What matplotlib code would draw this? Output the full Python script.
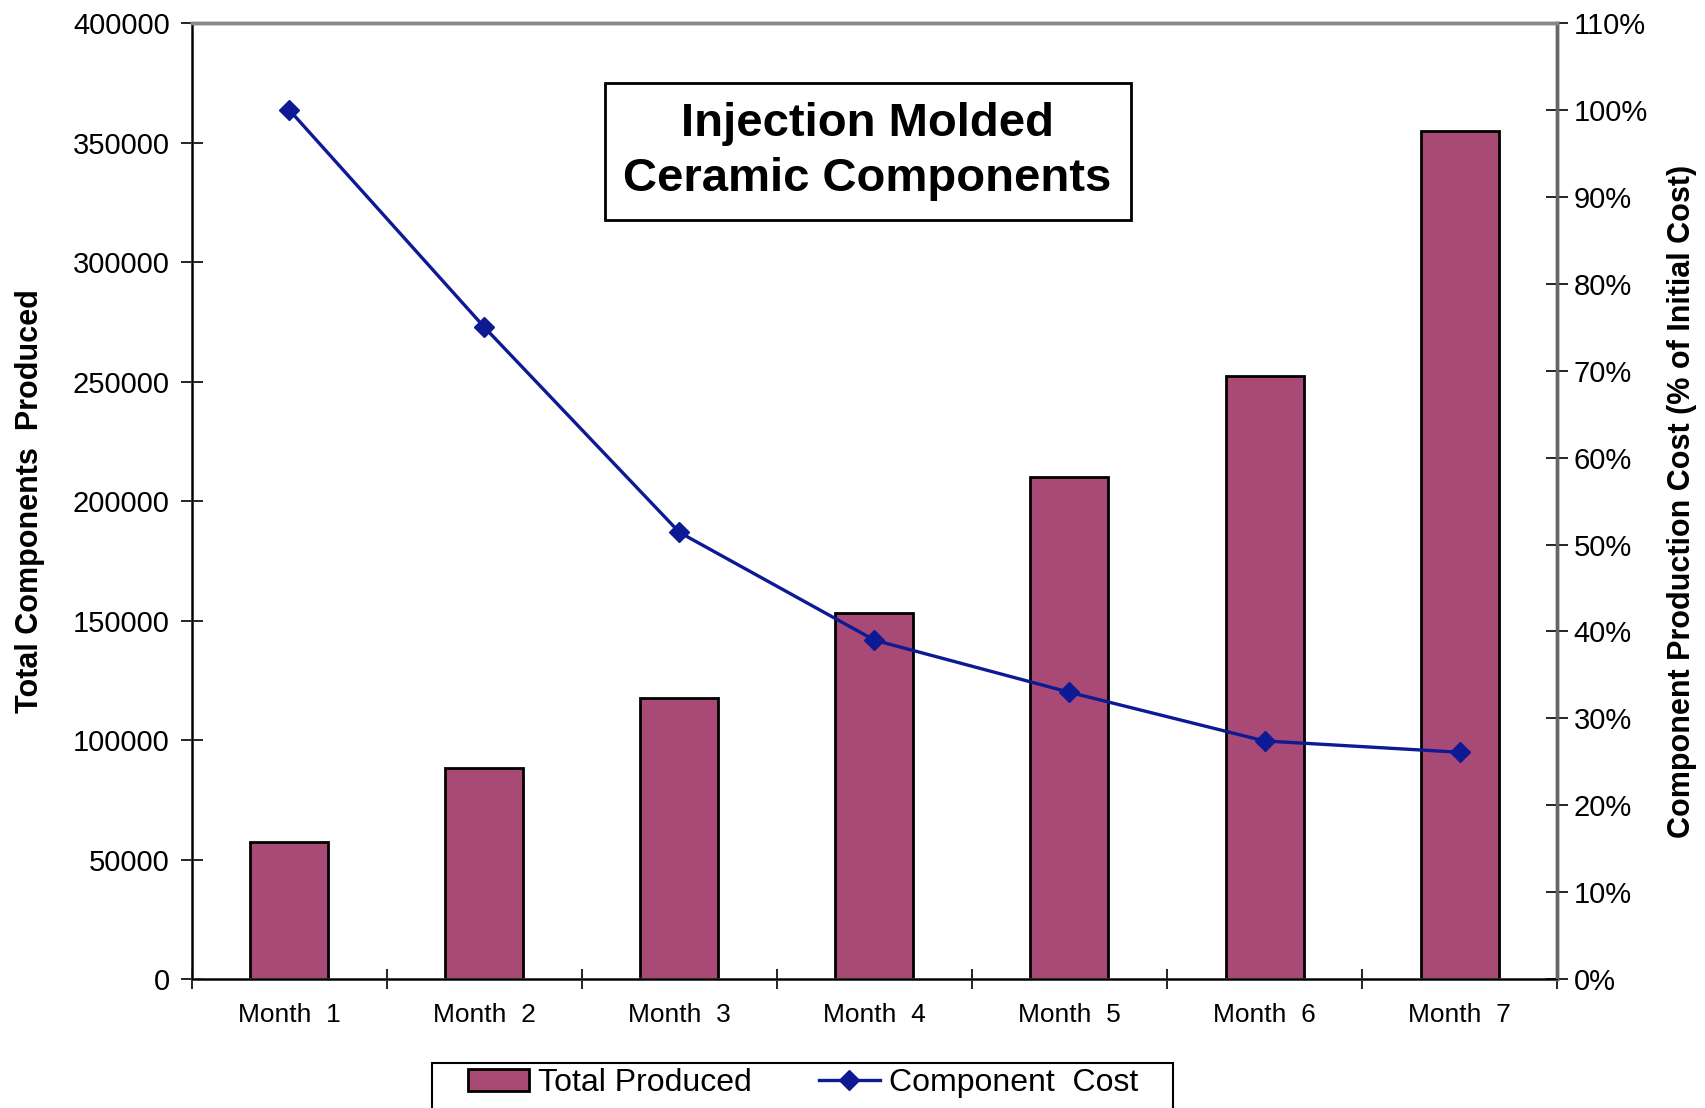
import matplotlib
matplotlib.use("Agg")
from matplotlib import pyplot as plt
from matplotlib.patches import Rectangle
from matplotlib.ticker import FuncFormatter, MultipleLocator

months = ["Month  1", "Month  2", "Month  3", "Month  4", "Month  5", "Month  6", "Month  7"]
total_produced = [57500, 88500, 117500, 153000, 210000, 252500, 355000]
component_cost = [100, 75, 51.4, 39, 33, 27.4, 26.1]   # % of initial cost

bar_color = "#A94A76"
line_color = "#0D1A94"
plt.rcParams['font.family'] = ['Liberation Sans', 'DejaVu Sans']

fig = plt.figure(figsize=(17.05, 11.08), dpi=100)
ax = fig.add_axes([0.1126, 0.1164, 0.8006, 0.8626])
x = list(range(len(months)))

bars = ax.bar(x, total_produced, width=0.4, color=bar_color, edgecolor="black",
              linewidth=2, label="Total Produced", zorder=2)
ax.set_xlim(-0.5, len(months) - 0.5)
ax.set_ylim(0, 400000)
ax.yaxis.set_major_locator(MultipleLocator(50000))
ax.set_xticks(x)
ax.set_xticklabels(months, fontsize=19)
ax.set_xticks([i - 0.5 for i in range(len(months) + 1)], minor=True)
ax.tick_params(axis="x", which="major", length=0, pad=17)
ax.tick_params(axis="x", which="minor", length=15, direction="inout", width=1.2)
ax.tick_params(axis="y", length=16, direction="inout", width=1.2, labelsize=21, pad=8)
ax.set_ylabel("Total Components  Produced", fontsize=22, fontweight="bold", labelpad=20)

for side in ["left", "bottom"]:
    ax.spines[side].set_color("#333333")
    ax.spines[side].set_linewidth(2)
for side in ["top", "right"]:
    ax.spines[side].set_color("#888888")
    ax.spines[side].set_linewidth(2.5)

ax2 = ax.twinx()
line, = ax2.plot(x, component_cost, color=line_color, linewidth=2.4, marker="D",
                 markersize=10, label="Component  Cost", zorder=3)
ax2.set_ylim(0, 110)
ax2.yaxis.set_major_locator(MultipleLocator(10))
ax2.yaxis.set_major_formatter(FuncFormatter(lambda v, p: "%d%%" % v))
ax2.tick_params(axis="y", length=16, direction="inout", width=1.2, labelsize=21, pad=4)
ax2.set_ylabel("Component Production Cost (% of Initial Cost)", fontsize=22,
               fontweight="bold", labelpad=14)
ax2.spines["right"].set_color("#666666")
ax2.spines["right"].set_linewidth(2.5)
ax2.spines["top"].set_color("#888888")
ax2.spines["top"].set_linewidth(2.5)

ax.text(0.495, 0.866, "Injection Molded\nCeramic Components", transform=ax.transAxes,
        ha="center", va="center", fontsize=34, fontweight="bold", linespacing=1.33,
        bbox=dict(boxstyle="square,pad=0.4", facecolor="white", edgecolor="black", linewidth=2),
        zorder=5)

# legend frame runs off the bottom edge like in the original
fig.patches.append(Rectangle((432 / 1705, -0.05), (1173 - 432) / 1705, 0.05 + 0.0406,
                             transform=fig.transFigure, fill=False, edgecolor="black",
                             linewidth=1.5))
leg = fig.legend([bars, line], ["Total Produced", "Component  Cost"], loc="center left",
                 bbox_to_anchor=(468 / 1705, 1 - 1083 / 1108), borderaxespad=0, ncol=2,
                 frameon=False, handlelength=1.9, handletextpad=0.3, columnspacing=2.1,
                 borderpad=0, prop={"family": ["Liberation Sans"], "size": 23})

fig.savefig("out.png", dpi=100)
